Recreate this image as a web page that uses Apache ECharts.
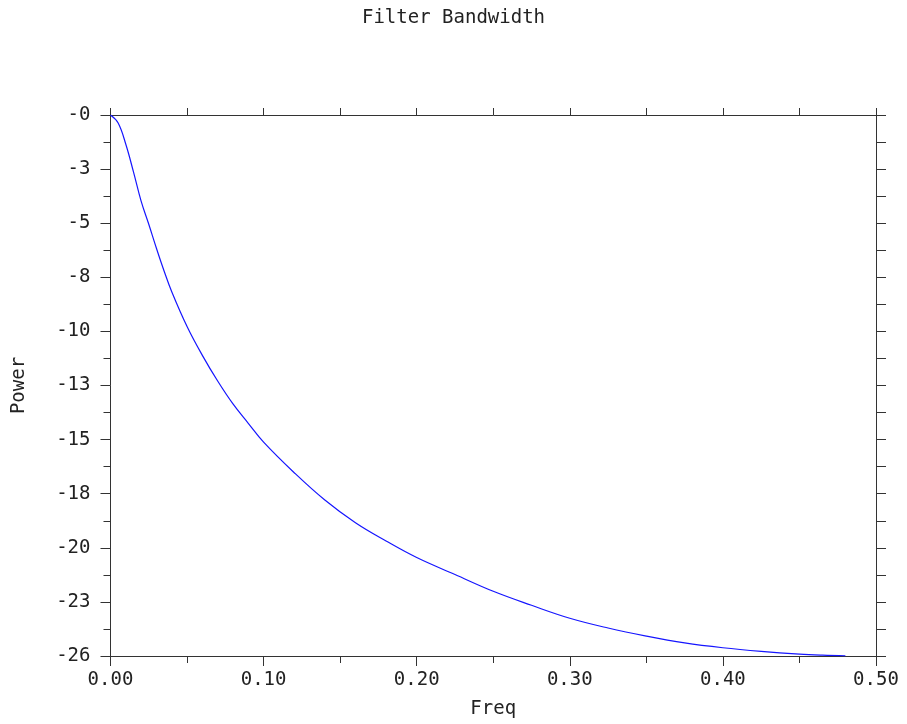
<!DOCTYPE html>
<html>
<head>
<meta charset="utf-8">
<script src="https://cdn.jsdelivr.net/npm/echarts@6/dist/echarts.min.js"></script>
<style>html,body{margin:0;padding:0;background:#fff}#c{width:907px;height:724px}</style>
</head>
<body>
<div id="c"></div>
<script>
const freq = [0, 0.005, 0.01, 0.015, 0.02, 0.025, 0.03, 0.035, 0.04, 0.05, 0.06, 0.07, 0.08, 0.09, 0.1, 0.12, 0.14, 0.16, 0.18, 0.2, 0.225, 0.25, 0.275, 0.3, 0.325, 0.35, 0.375, 0.4, 0.425, 0.45, 0.465, 0.48];
const power = [0, -0.38, -1.38, -2.68, -4.06, -5.15, -6.28, -7.35, -8.33, -9.97, -11.33, -12.54, -13.62, -14.53, -15.42, -16.86, -18.15, -19.22, -20.08, -20.86, -21.66, -22.45, -23.11, -23.72, -24.18, -24.56, -24.88, -25.11, -25.28, -25.41, -25.46, -25.49];
const yTickLabels = ["-0", "-3", "-5", "-8", "-10", "-13", "-15", "-18", "-20", "-23", "-26"];
const xTickLabels = ["0.00", "0.10", "0.20", "0.30", "0.40", "0.50"];

const FONT = "DejaVu Sans Mono";
const TXT = "#222";
const AX = "#333";
const chart = echarts.init(document.getElementById('c'));
const data = freq.map((f, i) => [f, power[i]]);
const yStep = 2.55;
const common = { fontFamily: FONT, fontSize: 19, color: TXT };
chart.setOption({
  animation: false,
  backgroundColor: '#fff',
  title: { text: 'Filter Bandwidth', left: 'center', top: 4,
    textStyle: { fontFamily: FONT, fontSize: 19, fontWeight: 'normal', color: TXT } },
  grid: { left: 110.5, right: 31, top: 115, bottom: 67 },
  xAxis: [{
    type: 'value', min: 0, max: 0.5, interval: 0.1, position: 'bottom',
    name: 'Freq', nameLocation: 'middle', nameGap: 44, nameTextStyle: common,
    axisLine: { show: true, onZero: false, lineStyle: { color: AX, width: 1 } },
    axisTick: { show: true, inside: false, length: 10, lineStyle: { color: AX } },
    minorTick: { show: true, splitNumber: 2, length: 7, lineStyle: { color: AX } },
    axisLabel: Object.assign({ margin: 15, formatter: (v) => xTickLabels[Math.round(v / 0.1)] }, common),
    splitLine: { show: false }, minorSplitLine: { show: false }
  }, {
    type: 'value', min: 0, max: 0.5, interval: 0.1, position: 'top',
    axisLine: { show: true, onZero: false, lineStyle: { color: AX, width: 1 } },
    axisTick: { show: true, inside: false, length: 7, lineStyle: { color: AX } },
    minorTick: { show: true, splitNumber: 2, length: 7, lineStyle: { color: AX } },
    axisLabel: { show: false }, splitLine: { show: false }
  }],
  yAxis: [{
    type: 'value', min: -25.5, max: 0, interval: yStep, position: 'left',
    name: 'Power', nameLocation: 'middle', nameGap: 82, nameRotate: 90, nameTextStyle: common,
    axisLine: { show: true, onZero: false, lineStyle: { color: AX, width: 1 } },
    axisTick: { show: true, inside: false, length: 10, lineStyle: { color: AX } },
    minorTick: { show: true, splitNumber: 2, length: 7, lineStyle: { color: AX } },
    axisLabel: Object.assign({ margin: 20, formatter: (v) => yTickLabels[Math.round(-v / yStep)] }, common),
    splitLine: { show: false }, minorSplitLine: { show: false }
  }, {
    type: 'value', min: -25.5, max: 0, interval: yStep, position: 'right',
    axisLine: { show: true, onZero: false, lineStyle: { color: AX, width: 1 } },
    axisTick: { show: true, inside: false, length: 10, lineStyle: { color: AX } },
    minorTick: { show: true, splitNumber: 2, length: 10, lineStyle: { color: AX } },
    axisLabel: { show: false }, splitLine: { show: false }
  }],
  series: [{
    type: 'line', data: data, xAxisIndex: 0, yAxisIndex: 0,
    showSymbol: false, smooth: 0.4,
    lineStyle: { color: '#1515ff', width: 1.2 }
  }]
});
</script>
</body>
</html>
